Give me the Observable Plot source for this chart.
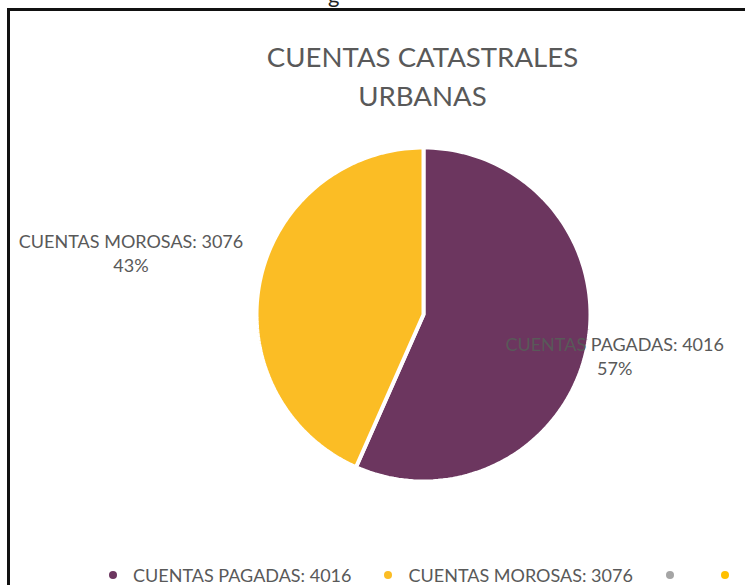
<!DOCTYPE html>
<html>
<head>
<meta charset="utf-8">
<script src="https://cdn.jsdelivr.net/npm/d3@7"></script>
<script src="https://cdn.jsdelivr.net/npm/@observablehq/plot@0.6"></script>
<style>
  html, body { margin: 0; padding: 0; background: #fff; }
  #wrap { position: relative; width: 745px; height: 585px; overflow: hidden; font-family: Lato, "Open Sans", sans-serif; }
  #frame { position: absolute; left: 7px; top: 8px; width: 760px; height: 600px; border-top: 3px solid #111; border-left: 3px solid #111; }
  #cut { position: absolute; left: 328px; top: -19px; font-size: 22px; color: #222; }
  #title { position: absolute; left: 0; width: 845px; top: 37px; text-align: center; color: #595959; font-size: 27.6px; line-height: 39px; }
  #chart { position: absolute; left: 0; top: 0; }
  #legend { position: absolute; top: 566px; left: 109px; display: flex; align-items: center; color: #595959; font-size: 18px; line-height: 18px; white-space: nowrap; }
  .item { display: flex; align-items: center; }
  .dot { width: 8px; height: 8px; border-radius: 50%; display: inline-block; margin-right: 16px; }
</style>
</head>
<body>
<div id="wrap">
  <div id="cut">g</div>
  <div id="frame"></div>
  <div id="title">CUENTAS CATASTRALES<br>URBANAS</div>
  <div id="chart"></div>
  <div id="legend"></div>
</div>
<script>
const categories = ["CUENTAS PAGADAS", "CUENTAS MOROSAS"];
const values = [4016, 3076];
const colors = ["#6C365F", "#FBBD25"];
const legendLabels = ["CUENTAS PAGADAS: 4016", "CUENTAS MOROSAS: 3076", "", ""];
const legendColors = ["#6C365F", "#FBBD25", "#A5A5A5", "#FFC000"];

// label distance from centre (in radii), per slice
const labelRadius = [1.17, 1.79];

const total = d3.sum(values);
const rows = categories.map((c, i) => ({cat: c, value: values[i], color: colors[i]}));
const arcs = d3.pie().sort(null).value(d => d.value)(rows);

const pts = [];
arcs.forEach(a => {
  pts.push({cat: a.data.cat, x: 0, y: 0});
  const n = 120;
  for (let k = 0; k <= n; k++) {
    const t = a.startAngle + (a.endAngle - a.startAngle) * k / n;
    pts.push({cat: a.data.cat, x: Math.sin(t), y: Math.cos(t)});
  }
});

const labels = arcs.map((a, i) => {
  const m = (a.startAngle + a.endAngle) / 2;
  const k = labelRadius[i];
  return {
    x: k * Math.sin(m),
    y: k * Math.cos(m),
    text: `${a.data.cat}: ${a.data.value}\n${Math.round(a.data.value / total * 100)}%`
  };
});

const cx = 423, cy = 314, R = 167, W = 745, H = 585;

const plot = Plot.plot({
  width: W,
  height: H,
  margin: 0,
  x: {domain: [-cx / R, (W - cx) / R], range: [0, W], axis: null},
  y: {domain: [-(H - cy) / R, cy / R], range: [H, 0], axis: null},
  color: {domain: categories, range: colors},
  style: {background: "transparent", fontFamily: "Lato, 'Open Sans', sans-serif"},
  marks: [
    Plot.line(pts, {x: "x", y: "y", z: "cat", fill: "cat", stroke: "white", strokeWidth: 4, curve: "linear-closed", strokeLinejoin: "miter"}),
    Plot.text(labels, {x: "x", y: "y", text: "text", fill: "#595959", fontSize: 18, lineHeight: 1.33, textAnchor: "middle", lineAnchor: "middle"})
  ]
});
document.getElementById("chart").appendChild(plot);

const leg = document.getElementById("legend");
legendLabels.forEach((l, i) => {
  const it = document.createElement("span");
  it.className = "item";
  it.style.marginRight = l ? "33px" : "31px";
  const d = document.createElement("span");
  d.className = "dot";
  d.style.background = legendColors[i];
  it.appendChild(d);
  if (l) {
    const s = document.createElement("span");
    s.textContent = l;
    it.appendChild(s);
  }
  leg.appendChild(it);
});
</script>
</body>
</html>
